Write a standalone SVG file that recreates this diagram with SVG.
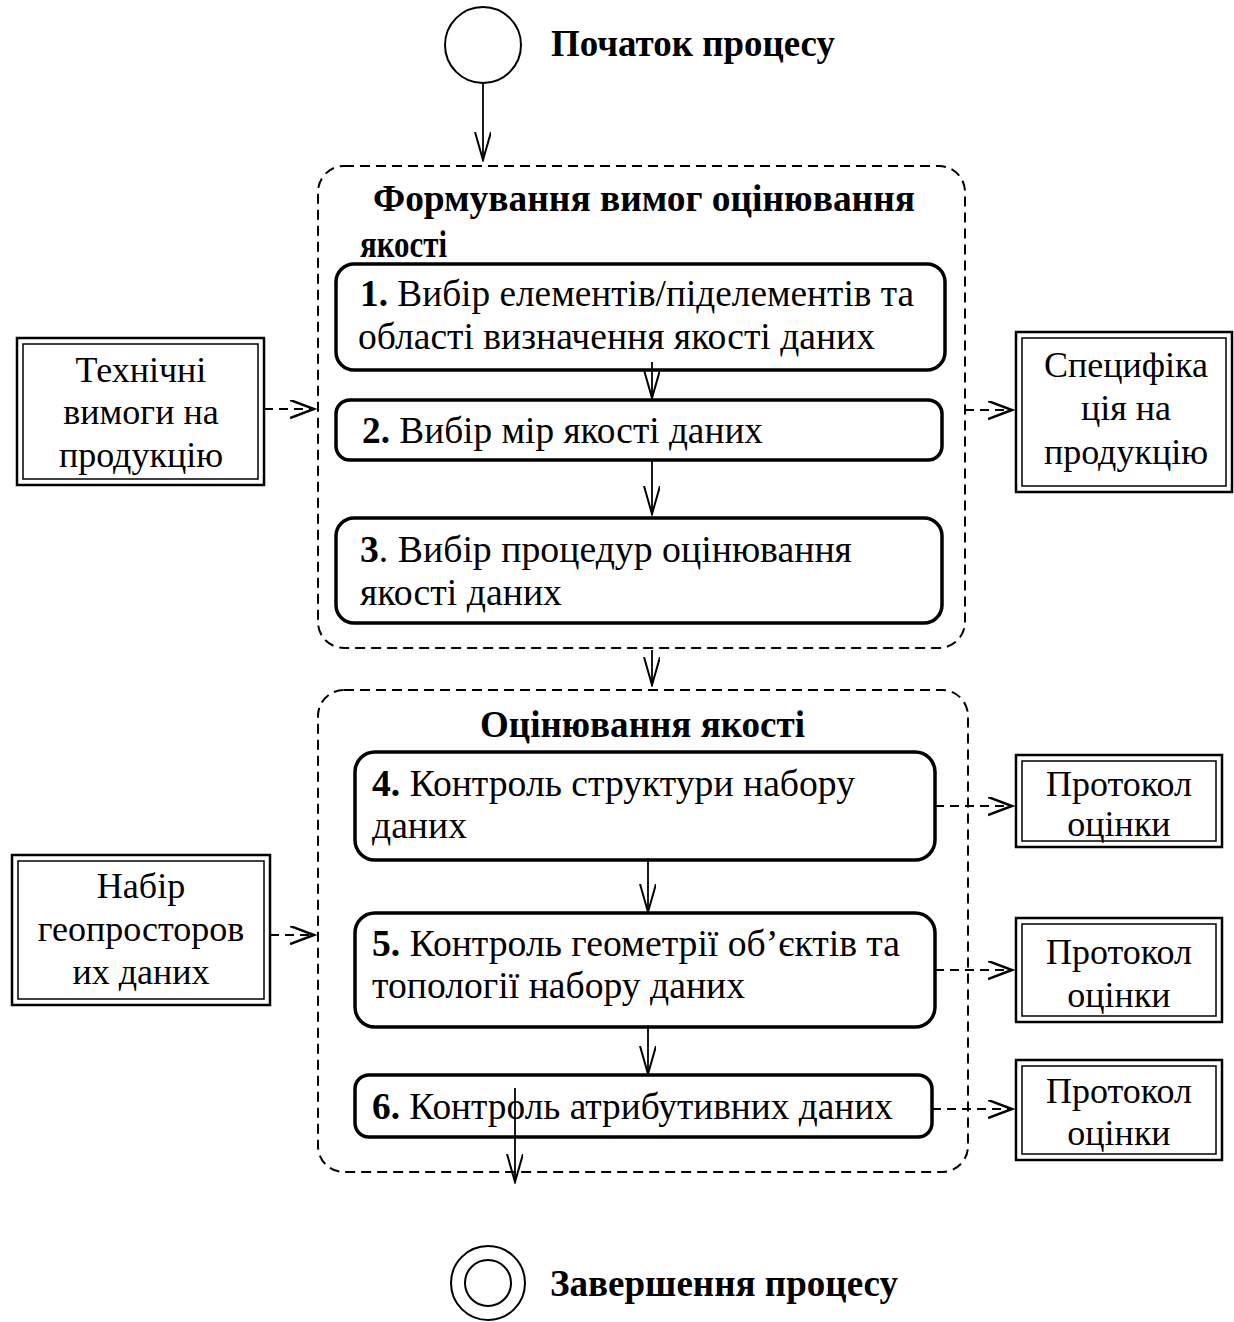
<svg xmlns="http://www.w3.org/2000/svg" width="1234" height="1322" viewBox="0 0 1234 1322">
<style>
text{font-family:"Liberation Serif","Times New Roman",serif;font-size:36px;fill:#000}
.b{font-weight:bold}
.t{font-size:38px;font-weight:bold}
.a{font-size:37px}
.act{fill:#fff;stroke:#000;stroke-width:3.5}
.grp{fill:none;stroke:#000;stroke-width:2;stroke-dasharray:10,6}
.o{fill:#fff;stroke:#000;stroke-width:2.5}
.i{fill:none;stroke:#000;stroke-width:1.5}
.ln{fill:none;stroke:#000;stroke-width:1.8}
.dl{fill:none;stroke:#000;stroke-width:2;stroke-dasharray:9,6}
.c{text-anchor:middle}
</style>
<defs>
<marker id="ah" markerUnits="userSpaceOnUse" markerWidth="30" markerHeight="20" refX="28" refY="8" orient="auto">
<path d="M0,0 L28,8 L0,16" fill="none" stroke="#000" stroke-width="2"/>
</marker>
<marker id="ah2" markerUnits="userSpaceOnUse" markerWidth="30" markerHeight="20" refX="24" refY="9" orient="auto">
<path d="M0,0 L24,9 L0,18" fill="none" stroke="#000" stroke-width="2.5"/>
</marker>
</defs>

<g id="start">
<circle cx="483" cy="45" r="38" fill="#fff" stroke="#000" stroke-width="2"/>
<text x="551" y="56" class="t" textLength="284" lengthAdjust="spacingAndGlyphs">Початок процесу</text>
</g>

<g id="group1">
<rect x="318" y="166" width="647" height="482" rx="26" class="grp"/>
<text x="373" y="211" class="t" textLength="542" lengthAdjust="spacingAndGlyphs">Формування вимог оцінювання</text>
<text x="360" y="257" class="t" textLength="87" lengthAdjust="spacingAndGlyphs">якості</text>
</g>

<g id="group2">
<rect x="318" y="690" width="650" height="482" rx="26" class="grp"/>
<text x="480" y="737" class="t" textLength="325" lengthAdjust="spacingAndGlyphs">Оцінювання якості</text>
</g>

<g id="a1">
<rect x="336" y="264" width="609" height="106" rx="18" class="act"/>
<text x="360" y="306" class="a" textLength="554" lengthAdjust="spacingAndGlyphs"><tspan class="b">1.</tspan> Вибір елементів/піделементів та</text>
<text x="358" y="349" class="a" textLength="517" lengthAdjust="spacingAndGlyphs">області визначення якості даних</text>
</g>
<g id="a2">
<rect x="336" y="400" width="606" height="60" rx="14" class="act"/>
<text x="362" y="443" class="a" textLength="401" lengthAdjust="spacingAndGlyphs"><tspan class="b">2.</tspan> Вибір мір якості даних</text>
</g>
<g id="a3">
<rect x="336" y="518" width="606" height="105" rx="18" class="act"/>
<text x="360" y="562" class="a" textLength="492" lengthAdjust="spacingAndGlyphs"><tspan class="b">3</tspan>. Вибір процедур оцінювання</text>
<text x="360" y="605" class="a" textLength="202" lengthAdjust="spacingAndGlyphs">якості даних</text>
</g>
<g id="a4">
<rect x="355" y="752" width="580" height="108" rx="20" class="act"/>
<text x="372" y="796" class="a" textLength="483" lengthAdjust="spacingAndGlyphs"><tspan class="b">4.</tspan> Контроль структури набору</text>
<text x="372" y="838" class="a" textLength="95" lengthAdjust="spacingAndGlyphs">даних</text>
</g>
<g id="a5">
<rect x="355" y="913" width="580" height="114" rx="20" class="act"/>
<text x="372" y="956" class="a" textLength="528" lengthAdjust="spacingAndGlyphs"><tspan class="b">5.</tspan> Контроль геометрії об’єктів та</text>
<text x="372" y="998" class="a" textLength="373" lengthAdjust="spacingAndGlyphs">топології набору даних</text>
</g>
<g id="a6">
<rect x="355" y="1075" width="577" height="62" rx="14" class="act"/>
<text x="372" y="1119" class="a" textLength="521" lengthAdjust="spacingAndGlyphs"><tspan class="b">6.</tspan> Контроль атрибутивних даних</text>
</g>

<g id="in1">
<rect x="17" y="338" width="247" height="147" class="o"/>
<rect x="23" y="344" width="235" height="135" class="i"/>
<text x="141" y="382" class="c">Технічні</text>
<text x="141" y="424" class="c">вимоги на</text>
<text x="141" y="467" class="c">продукцію</text>
</g>
<g id="out1">
<rect x="1016" y="332" width="216" height="160" class="o"/>
<rect x="1022" y="338" width="204" height="148" class="i"/>
<text x="1126" y="377" class="c">Специфіка</text>
<text x="1126" y="420" class="c">ція на</text>
<text x="1126" y="464" class="c">продукцію</text>
</g>
<g id="in2">
<rect x="12" y="855" width="258" height="150" class="o"/>
<rect x="18" y="861" width="246" height="138" class="i"/>
<text x="141" y="898" class="c">Набір</text>
<text x="141" y="941" class="c">геопросторов</text>
<text x="141" y="984" class="c">их даних</text>
</g>
<g id="out2">
<rect x="1016" y="755" width="206" height="92" class="o"/>
<rect x="1022" y="761" width="194" height="80" class="i"/>
<text x="1119" y="796" class="c">Протокол</text>
<text x="1119" y="836" class="c">оцінки</text>
</g>
<g id="out3">
<rect x="1016" y="918" width="206" height="104" class="o"/>
<rect x="1022" y="924" width="194" height="92" class="i"/>
<text x="1119" y="964" class="c">Протокол</text>
<text x="1119" y="1007" class="c">оцінки</text>
</g>
<g id="out4">
<rect x="1016" y="1060" width="206" height="100" class="o"/>
<rect x="1022" y="1066" width="194" height="88" class="i"/>
<text x="1119" y="1103" class="c">Протокол</text>
<text x="1119" y="1145" class="c">оцінки</text>
</g>

<g id="end">
<circle cx="488" cy="1283" r="37" fill="#fff" stroke="#000" stroke-width="2"/>
<circle cx="488" cy="1283" r="23" fill="none" stroke="#000" stroke-width="2"/>
<text x="550" y="1296" class="t" textLength="348" lengthAdjust="spacingAndGlyphs">Завершення процесу</text>
</g>

<g id="connectors">
<line x1="483" y1="83" x2="483" y2="160" class="ln" marker-end="url(#ah)"/>
<line x1="652" y1="362" x2="652" y2="398" class="ln" marker-end="url(#ah)"/>
<line x1="652" y1="460" x2="652" y2="514" class="ln" marker-end="url(#ah)"/>
<line x1="652" y1="650" x2="652" y2="685" class="ln" marker-end="url(#ah)"/>
<line x1="648" y1="858" x2="648" y2="912" class="ln" marker-end="url(#ah)"/>
<line x1="648" y1="1025" x2="648" y2="1074" class="ln" marker-end="url(#ah)"/>
<line x1="515" y1="1088" x2="515" y2="1182" class="ln" marker-end="url(#ah)"/>
<line x1="264" y1="409" x2="314" y2="409" class="dl" marker-end="url(#ah2)"/>
<line x1="965" y1="410" x2="1012" y2="410" class="dl" marker-end="url(#ah2)"/>
<line x1="270" y1="935" x2="314" y2="935" class="dl" marker-end="url(#ah2)"/>
<line x1="935" y1="806" x2="1012" y2="806" class="dl" marker-end="url(#ah2)"/>
<line x1="935" y1="970" x2="1012" y2="970" class="dl" marker-end="url(#ah2)"/>
<line x1="932" y1="1109" x2="1012" y2="1109" class="dl" marker-end="url(#ah2)"/>
</g>
</svg>
